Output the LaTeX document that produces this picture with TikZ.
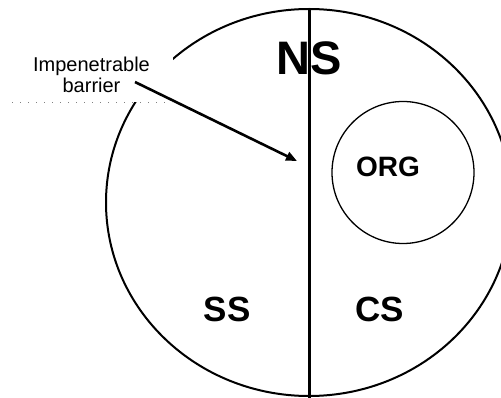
\documentclass[tikz,border=0pt]{standalone}
\usepackage{fontspec}
\setmainfont{Liberation Sans}
\usetikzlibrary{arrows.meta}

\begin{document}
\begin{tikzpicture}[x=1pt, y=-1pt]
\tikzset{
  zone/.style={font=\fontsize{35}{38}\selectfont\bfseries, anchor=base, inner sep=0pt},
  lab/.style={font=\fontsize{20}{21}\selectfont, align=center, anchor=base, inner sep=0pt},
  wall/.style={line width=3.2pt},
  ptr/.style={line width=2.6pt, -{Triangle[length=11pt, width=9pt]}}}
\useasboundingbox (0,0) rectangle (501,398);

% ---------------- outer ring and barrier ----------------
\draw[line width=2pt] (309,202.5) ellipse [x radius=203, y radius=193.5];
\fill[white] (12,40) rectangle (173,102);
\draw[gray, line width=0.7pt, dash pattern=on 0.8pt off 7.2pt] (12,102) -- (172,102);

\coordinate (top) at (309.5,8);
\coordinate (bot) at (309.5,400);
\draw[wall] (top) -- (bot);

% ---------------- regions ----------------
\node[zone, font=\fontsize{47}{50}\selectfont\bfseries] (ns) at (309,75) {NS};
\node[zone] (ss) at (227,321) {SS};
\node[zone] (cs) at (380,321) {CS};

\draw[line width=1.3pt] (403,172.5) circle [radius=71];
\node[zone, font=\fontsize{28}{30}\selectfont\bfseries] (org) at (388,177) {ORG};

% ---------------- label ----------------
\node[lab] (barrier) at (91.5,93) {Impenetrable\\barrier};
\coordinate (from) at (135,82);
\coordinate (tip) at (297,161);
\draw[ptr] (from) -- (tip);
\end{tikzpicture}
\end{document}
